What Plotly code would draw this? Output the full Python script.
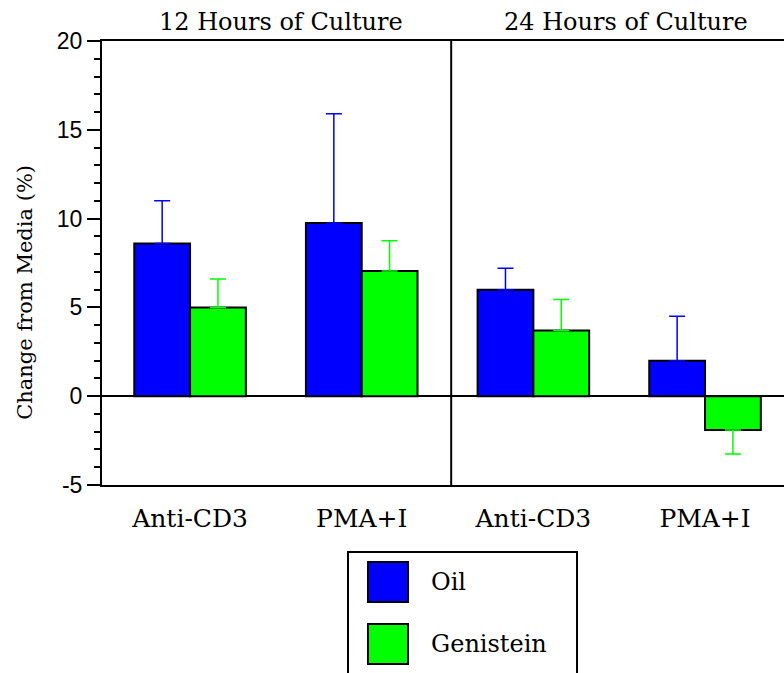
import plotly.graph_objects as go

# data
groups = ["Anti-CD3", "PMA+I", "Anti-CD3", "PMA+I"]
oil = [8.6, 9.75, 6.0, 2.0]
oil_err = [2.4, 6.15, 1.2, 2.5]
genistein = [5.0, 7.05, 3.7, -1.9]
genistein_err = [1.6, 1.7, 1.75, 1.35]
panel_titles = ["12 Hours of Culture", "24 Hours of Culture"]
series_names = ["Oil", "Genistein"]
series_colors = ["#0000FF", "#00FF00"]
y_ticks = [-5, 0, 5, 10, 15, 20]
y_ticklabels = ["-5", "0", "5", "10", "15", "20"]

x = list(range(len(groups)))
SERIF = "DejaVu Serif"


def one_sided(vals, errs):
    # error bars go away from zero only
    up = [e if v >= 0 else 0 for v, e in zip(vals, errs)]
    down = [0 if v >= 0 else e for v, e in zip(vals, errs)]
    return up, down


fig = go.Figure()
for name, vals, errs, col in zip(series_names, [oil, genistein],
                                 [oil_err, genistein_err], series_colors):
    up, down = one_sided(vals, errs)
    fig.add_trace(go.Bar(
        x=x, y=vals, name=name,
        marker=dict(color=col, line=dict(color="black", width=2)),
        error_y=dict(type="data", symmetric=False, array=up, arrayminus=down,
                     color=col, thickness=1.5, width=8),
        showlegend=False,
    ))

fig.update_layout(
    width=784, height=673,
    margin=dict(l=102, r=0, t=41, b=188),
    paper_bgcolor="white", plot_bgcolor="white",
    barmode="group", bargap=0.35, bargroupgap=0,
)

fig.update_xaxes(
    range=[-0.513, 3.46],
    tickvals=x, ticktext=groups,
    tickfont=dict(family=SERIF, size=25, color="black"),
    ticks="", ticklabelstandoff=10,
    showline=True, linecolor="black", linewidth=2, mirror=True,
    showgrid=False, zeroline=False,
)
fig.update_yaxes(
    range=[-5, 20], tickvals=y_ticks, ticktext=y_ticklabels,
    tickfont=dict(family="Liberation Sans", size=23, color="black"),
    ticks="outside", ticklen=13, tickwidth=2, tickcolor="black",
    minor=dict(dtick=1, ticks="outside", ticklen=6, tickwidth=2, tickcolor="black"),
    showline=True, linecolor="black", linewidth=2,
    showgrid=False, zeroline=True, zerolinecolor="black", zerolinewidth=2,
)

# divider between the two culture times
fig.add_shape(type="line", xref="paper", yref="paper", x0=0.512, x1=0.512,
              y0=0, y1=1, line=dict(color="black", width=2))

# panel titles
for px_, t in zip([0.53, 2.54], panel_titles):
    fig.add_annotation(x=px_, y=1.043, xref="x", yref="paper", text=t,
                       showarrow=False, xanchor="center", yanchor="middle",
                       font=dict(family=SERIF, size=24, color="black"))

# y title
fig.add_annotation(x=-0.113, y=0.435, xref="paper", yref="paper",
                   text="Change from Media (%)", textangle=-90, showarrow=False,
                   xanchor="center", yanchor="middle",
                   font=dict(family=SERIF, size=21, color="black"))

# legend box drawn by hand (big swatches)
fig.add_shape(type="rect", xref="paper", yref="paper", x0=0.3607, x1=0.6965,
              y0=-0.6, y1=-0.1509, line=dict(color="black", width=2),
              fillcolor="white")
for i, (name, col) in enumerate(zip(series_names, series_colors)):
    top = -0.1734 - i * 0.1396
    fig.add_shape(type="rect", xref="paper", yref="paper", x0=0.3900, x1=0.4487,
                  y0=top - 0.0901, y1=top, fillcolor=col,
                  line=dict(color="black", width=2))
    fig.add_annotation(x=0.479, y=top - 0.045, xref="paper", yref="paper",
                       text=name, showarrow=False, xanchor="left", yanchor="middle",
                       font=dict(family=SERIF, size=24, color="black"))

fig.write_html("out.html", config={"displayModeBar": False},
               post_script="document.body.style.margin='0';"
                           "document.body.style.overflow='hidden';")
